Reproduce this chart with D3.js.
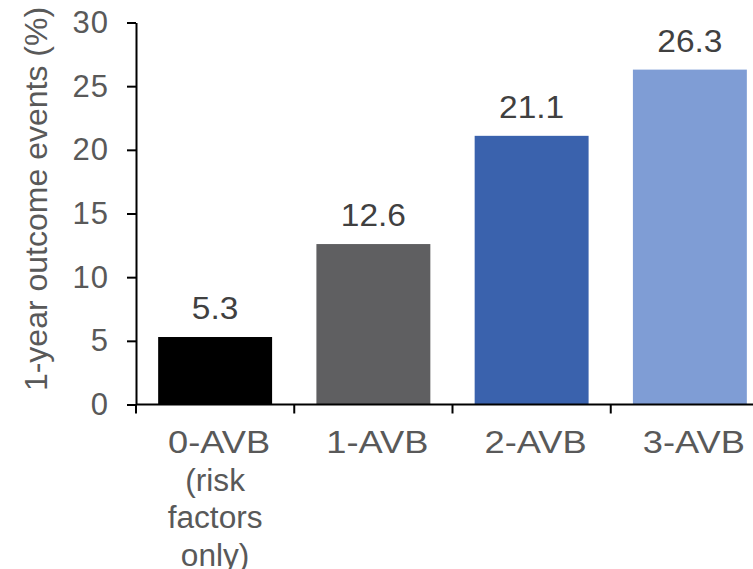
<!DOCTYPE html>
<html>
<head>
<meta charset="utf-8">
<script src="https://cdn.jsdelivr.net/npm/d3@7"></script>
<style>
  html, body { margin: 0; padding: 0; background: #ffffff; }
  svg { display: block; }
  text { font-family: "Liberation Sans", Arial, Helvetica, sans-serif; }
</style>
</head>
<body>
<svg id="chart" width="753" height="569"></svg>
<script>
// Groups by number of affected vascular beds
const categories = ["0-AVB", "1-AVB", "2-AVB", "3-AVB"];
const categoryLines = [["0-AVB", "(risk", "factors", "only)"], ["1-AVB"], ["2-AVB"], ["3-AVB"]];
const eventRates = [5.3, 12.6, 21.1, 26.3];
const barColors = ["#000000", "#5f5f61", "#3a62ad", "#7f9dd5"];
const yTicks = [0, 5, 10, 15, 20, 25, 30];
const yTitle = "1-year outcome events (%)";

const svg = d3.select("#chart");

const x = d3.scaleBand()
  .domain(categories)
  .range([136, 769])
  .paddingInner(0.28)
  .paddingOuter(0.14);

const y = d3.scaleLinear()
  .domain([0, 30])
  .range([404.5, 22.5]);

// Bars
svg.append("g")
  .selectAll("rect")
  .data(categories)
  .join("rect")
  .attr("x", d => x(d))
  .attr("y", (d, i) => y(eventRates[i]))
  .attr("width", x.bandwidth())
  .attr("height", (d, i) => y(0) - y(eventRates[i]))
  .attr("fill", (d, i) => barColors[i]);

// Value labels above the bars (slightly wide-set glyphs)
svg.append("g")
  .selectAll("text")
  .data(categories)
  .join("text")
  .attr("transform", (d, i) =>
    `translate(${x(d) + x.bandwidth() / 2},${y(eventRates[i]) - 18}) scale(1.08,1)`)
  .attr("text-anchor", "middle")
  .attr("font-size", 31)
  .attr("fill", "#404040")
  .text((d, i) => eventRates[i].toFixed(1));

// Y axis
const yAxis = svg.append("g")
  .attr("transform", "translate(136,0)")
  .call(d3.axisLeft(y).tickValues(yTicks).tickSize(9).tickSizeOuter(0).tickPadding(18));
yAxis.select(".domain").attr("stroke", "#000").attr("stroke-width", 2);
yAxis.selectAll(".tick line").attr("stroke", "#000").attr("stroke-width", 2);
yAxis.selectAll(".tick text")
  .attr("font-size", 31)
  .attr("letter-spacing", 1)
  .attr("fill", "#595959")
  .attr("font-family", "'Liberation Sans', Arial, sans-serif");

// X axis: baseline with ticks between categories
const xAxis = svg.append("g");
const [x0, x1] = x.range();
xAxis.append("line")
  .attr("x1", x0).attr("x2", x1)
  .attr("y1", y(0)).attr("y2", y(0))
  .attr("stroke", "#000").attr("stroke-width", 2);
const boundaries = categories.map(d => x(d) - x.step() * x.paddingInner() / 2);
boundaries[0] = x0;
xAxis.selectAll("line.tick")
  .data(boundaries)
  .join("line")
  .attr("class", "tick")
  .attr("x1", d => d).attr("x2", d => d)
  .attr("y1", y(0)).attr("y2", y(0) + 9)
  .attr("stroke", "#000").attr("stroke-width", 2);

// Category labels, one text per line; the group name line is set wider
categories.forEach((d, i) => {
  const cx = x(d) + x.bandwidth() / 2;
  categoryLines[i].forEach((line, k) => {
    xAxis.append("text")
      .attr("transform", `translate(${cx + (k === 0 ? 4 : 0)},${453 + k * 37.5}) scale(${k === 0 ? 1.17 : 1.02},1)`)
      .attr("text-anchor", "middle")
      .attr("font-size", 31)
      .attr("fill", "#595959")
      .text(line);
  });
});

// Y axis title
svg.append("text")
  .attr("transform", "translate(47,199) rotate(-90)")
  .attr("text-anchor", "middle")
  .attr("font-size", 32)
  .attr("fill", "#595959")
  .text(yTitle);
</script>
</body>
</html>
